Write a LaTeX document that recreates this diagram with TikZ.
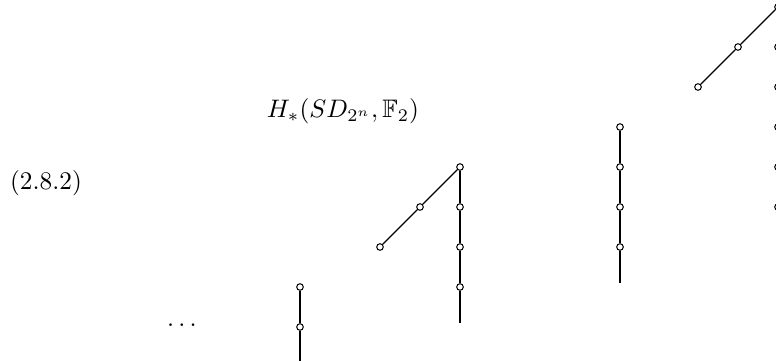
\documentclass[tikz,border=0pt]{standalone}
\usepackage{amssymb}
\usetikzlibrary{math}
\tikzset{
cls/.style={circle, draw, fill=white, inner sep=0pt, minimum size=2.6pt, line width=0.4pt},
tower/.style={line width=0.8pt},
hop/.style={line width=0.45pt}
}

\begin{document}
\begin{tikzpicture}[x=15.8pt, y=15.8pt]
\tikzmath{
\W=19.4;
\B=-0.825;
\T=8.175;
\tl=0.9;
}
\useasboundingbox (0,\B) rectangle (\W,\T);
\clip (0,\B) rectangle (\W,\T);

\node (num) at (1.15,3.6) {(2.8.2)};
\node (title) at (8.575,5.4) {$H_*(SD_{2^n},\mathbb{F}_2)$};
\node (dots) at (4.55,0.05) {$\dots$};

\node[cls] (A0) at (7.5,0) {};
\node[cls] (A1) at (7.5,1) {};
\coordinate (Aend) at (7.5,-\tl);

\node[cls] (B1) at (11.5,1) {};
\node[cls] (B2) at (11.5,2) {};
\node[cls] (B3) at (11.5,3) {};
\node[cls] (B4) at (11.5,4) {};
\node[cls] (b2) at (9.5,2) {};
\node[cls] (b3) at (10.5,3) {};
\coordinate (Bend) at (11.5,1-\tl);

\node[cls] (C2) at (15.5,2) {};
\node[cls] (C3) at (15.5,3) {};
\node[cls] (C4) at (15.5,4) {};
\node[cls] (C5) at (15.5,5) {};
\coordinate (Cend) at (15.5,2-\tl);

\node[cls] (D3) at (19.45,3) {};
\node[cls] (D4) at (19.45,4) {};
\node[cls] (D5) at (19.45,5) {};
\node[cls] (D6) at (19.45,6) {};
\node[cls] (D7) at (19.45,7) {};
\node[cls] (D8) at (19.45,8) {};
\node[cls] (d6) at (17.45,6) {};
\node[cls] (d7) at (18.45,7) {};

\draw[tower] (A1) -- (A0) -- (Aend);

\draw[tower] (B4) -- (B3) -- (B2) -- (B1) -- (Bend);
\draw[hop] (b2) -- (b3) -- (B4);

\draw[tower] (C5) -- (C4) -- (C3) -- (C2) -- (Cend);

\draw[hop] (d6) -- (d7) -- (D8);
\end{tikzpicture}
\end{document}
